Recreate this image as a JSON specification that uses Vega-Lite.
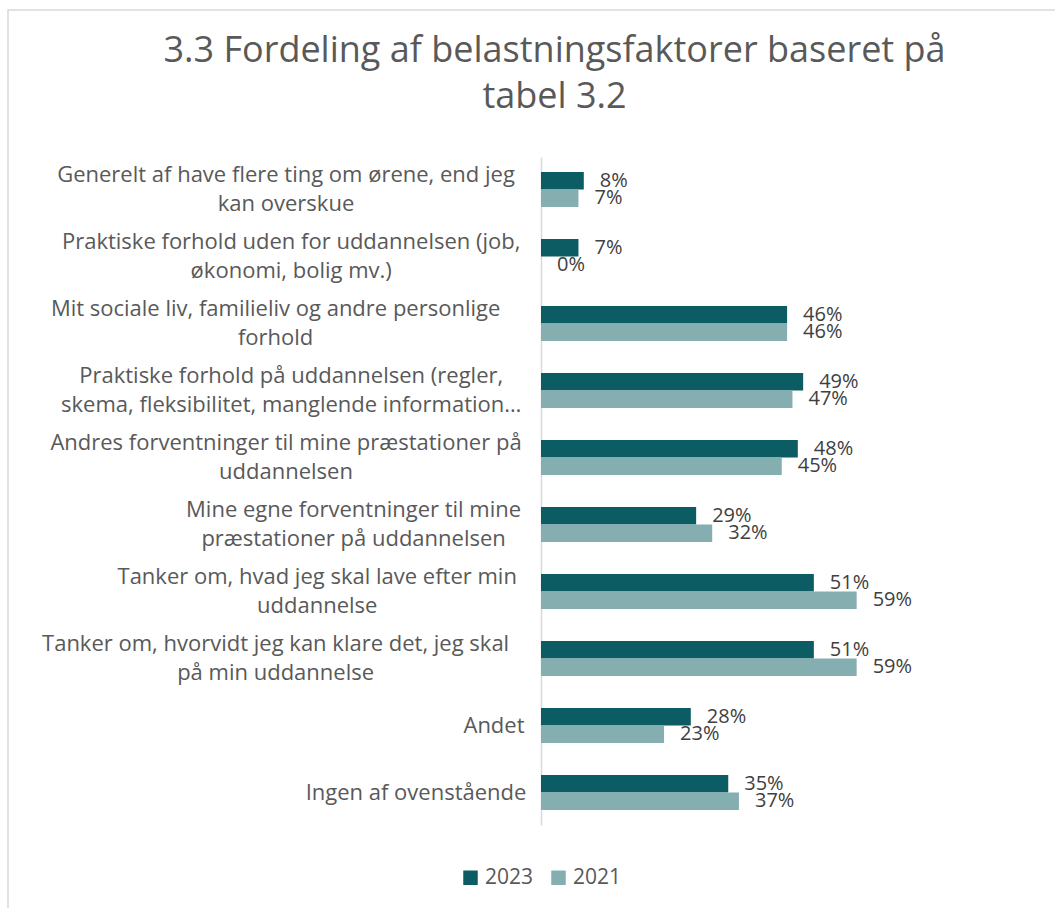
{
  "$schema": "https://vega.github.io/schema/vega-lite/v6.json",
  "width": 1047,
  "height": 898,
  "autosize": "none",
  "padding": {"left": 8, "top": 10, "right": 0, "bottom": 0},
  "background": "white",
  "config": {
    "font": "Open Sans",
    "view": {"stroke": "#d9d9d9", "strokeWidth": 1.5, "strokeDash": [1047, 1945, 898]}
  },
  "title": {
    "text": ["3.3 Fordeling af belastningsfaktorer baseret på", "tabel 3.2"],
    "fontSize": 36,
    "fontWeight": "normal",
    "color": "#595959",
    "font": "Open Sans",
    "anchor": "middle",
    "frame": "group",
    "dx": 23,
    "lineHeight": 46,
    "baseline": "top",
    "offset": -106
  },
  "data": {
    "values": [
      {"category": "Generelt af have flere ting om ørene, end jeg\nkan overskue", "year": "2023", "value": 0.08},
      {"category": "Generelt af have flere ting om ørene, end jeg\nkan overskue", "year": "2021", "value": 0.07},
      {"category": "Praktiske forhold uden for uddannelsen (job,\nøkonomi, bolig mv.)", "year": "2023", "value": 0.07},
      {"category": "Praktiske forhold uden for uddannelsen (job,\nøkonomi, bolig mv.)", "year": "2021", "value": 0.0},
      {"category": "Mit sociale liv, familieliv og andre personlige\nforhold", "year": "2023", "value": 0.46},
      {"category": "Mit sociale liv, familieliv og andre personlige\nforhold", "year": "2021", "value": 0.46},
      {"category": "Praktiske forhold på uddannelsen (regler,\nskema, fleksibilitet, manglende information…", "year": "2023", "value": 0.49},
      {"category": "Praktiske forhold på uddannelsen (regler,\nskema, fleksibilitet, manglende information…", "year": "2021", "value": 0.47},
      {"category": "Andres forventninger til mine præstationer på\nuddannelsen", "year": "2023", "value": 0.48},
      {"category": "Andres forventninger til mine præstationer på\nuddannelsen", "year": "2021", "value": 0.45},
      {"category": "Mine egne forventninger til mine\npræstationer på uddannelsen", "year": "2023", "value": 0.29},
      {"category": "Mine egne forventninger til mine\npræstationer på uddannelsen", "year": "2021", "value": 0.32},
      {"category": "Tanker om, hvad jeg skal lave efter min\nuddannelse", "year": "2023", "value": 0.51},
      {"category": "Tanker om, hvad jeg skal lave efter min\nuddannelse", "year": "2021", "value": 0.59},
      {"category": "Tanker om, hvorvidt jeg kan klare det, jeg skal\npå min uddannelse", "year": "2023", "value": 0.51},
      {"category": "Tanker om, hvorvidt jeg kan klare det, jeg skal\npå min uddannelse", "year": "2021", "value": 0.59},
      {"category": "Andet", "year": "2023", "value": 0.28},
      {"category": "Andet", "year": "2021", "value": 0.23},
      {"category": "Ingen af ovenstående", "year": "2023", "value": 0.35},
      {"category": "Ingen af ovenstående", "year": "2021", "value": 0.37}
    ]
  },
  "encoding": {
    "y": {
      "field": "category",
      "type": "nominal",
      "sort": null,
      "scale": {"range": [147, 815], "paddingInner": 0.478, "paddingOuter": 0.224},
      "axis": {"offset": -533, "labels": false, "ticks": false, "title": null, "grid": false, "domainColor": "#d9d9d9", "domainWidth": 1.5}
    },
    "x": {
      "field": "value",
      "type": "quantitative",
      "scale": {"domain": [0, 1], "range": [533, 1068]},
      "axis": null
    }
  },
  "layer": [
    {
      "mark": {"type": "bar"},
      "encoding": {
        "yOffset": {"field": "year", "type": "nominal", "sort": ["2023", "2021"], "scale": {"paddingInner": 0}},
        "color": {
          "field": "year",
          "type": "nominal",
          "sort": ["2023", "2021"],
          "scale": {"domain": ["2023", "2021"], "range": ["#0c5c63", "#85aeb1"]},
          "legend": {
            "orient": "none",
            "legendX": 452,
            "legendY": 857,
            "direction": "horizontal",
            "title": null,
            "symbolType": "square",
            "symbolSize": 210,
            "symbolStrokeWidth": 0,
            "labelFontSize": 21,
            "labelColor": "#595959",
            "labelFont": "Open Sans",
            "columnPadding": 14,
            "labelOffset": 4
          }
        }
      }
    },
    {
      "mark": {"type": "text", "align": "left", "baseline": "middle", "dx": 16, "fontSize": 20, "color": "#404040", "font": "Open Sans"},
      "encoding": {
        "yOffset": {"field": "year", "type": "nominal", "sort": ["2023", "2021"], "scale": {"paddingInner": 0}},
        "text": {"field": "value", "type": "quantitative", "format": ".0%"}
      }
    },
    {
      "transform": [{"filter": "datum.year == '2023'"}],
      "mark": {
        "type": "text",
        "align": "center",
        "baseline": "middle",
        "lineBreak": "\n",
        "lineHeight": 29,
        "fontSize": 22,
        "color": "#595959",
        "font": "Open Sans",
        "dx": {"expr": "-21 - 10.4 * max(length(split(datum.category, '\\n')[0]), length(peek(split(datum.category, '\\n')))) / 2"},
        "dy": {"expr": "-14.5 * (length(split(datum.category, '\\n')) - 1)"}
      },
      "encoding": {
        "x": {"datum": 0, "type": "quantitative"},
        "text": {"field": "category", "type": "nominal"}
      }
    }
  ]
}
